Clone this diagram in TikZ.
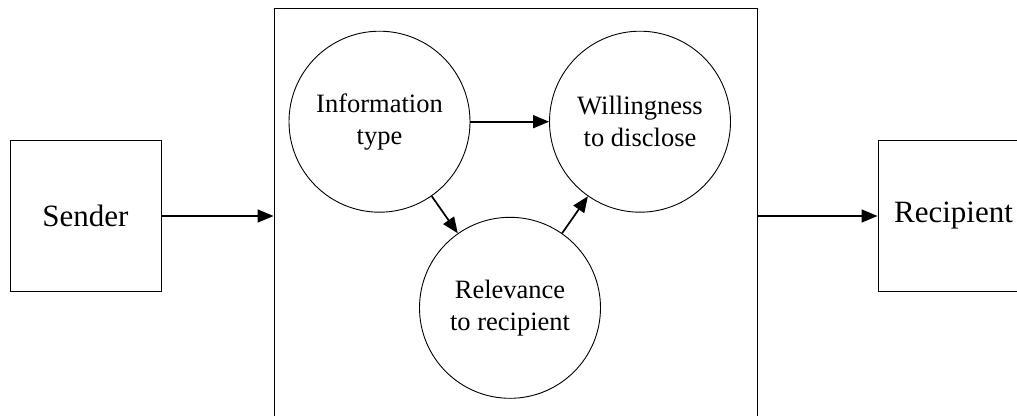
\documentclass[tikz,border=0pt]{standalone}
\usepackage{fontspec}
\setmainfont{Liberation Serif}
\usetikzlibrary{arrows.meta}

\begin{document}
\begin{tikzpicture}[
        x=1pt, y=-1pt,
        party/.style={rectangle, draw=black, line width=0.9pt, minimum width=151pt, minimum height=151pt, align=center, font=\fontsize{31}{37}\selectfont},
        factor/.style={circle, draw=black, line width=0.9pt, minimum size=181pt, inner sep=0pt, align=center, font=\fontsize{26.5}{32}\selectfont},
        frame/.style={rectangle, draw=black, line width=0.9pt, minimum width=483pt, minimum height=440pt},
        arrow/.style={-{Triangle[length=16pt, width=13pt]}, line width=1.7pt}
    ]

    % Page size and clipping
    \useasboundingbox (0,0) rectangle (1017,415);
    \clip (0,0) rectangle (1017,415);

    % Sender and recipient
    \node[party] (sender) at (85.5, 216) {Sender};
    \node[party] (recipient) at (953.5, 216) {Recipient};

    % Context frame
    \node[frame] (context) at (515.5, 228) {};

    % Factors
    \node[factor] (infotype) at (379.5, 121.7) {Information\\type};
    \node[factor] (willing) at (640, 121.7) {Willingness\\to disclose};
    \node[factor] (relevance) at (510, 307.8) {Relevance\\to recipient};

    % Arrows
    \draw[arrow] (sender.east) -- (sender.east -| context.west);
    \draw[arrow] (recipient.west -| context.east) -- (recipient.west);
    \draw[arrow] (infotype) -- (willing);
    \draw[arrow] (infotype) -- (relevance);
    \draw[arrow] (relevance) -- (willing);

    \end{tikzpicture}
\end{document}
